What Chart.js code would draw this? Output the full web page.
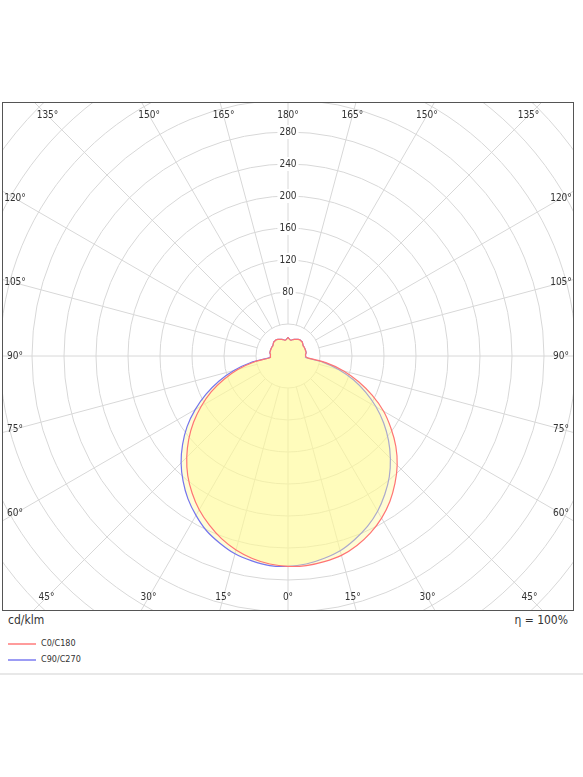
<!DOCTYPE html>
<html>
<head>
<meta charset="utf-8">
<script src="https://cdn.jsdelivr.net/npm/chart.js@4.4.1/dist/chart.umd.min.js"></script>
<style>
  body { margin: 0; background: #fff; font-family: Tahoma, "DejaVu Sans Condensed", "DejaVu Sans", sans-serif; color: #333; }
  #frame { position: absolute; left: 2px; top: 102px; width: 572px; height: 509px; box-sizing: border-box; border: 1px solid #555; overflow: hidden; }
  #wrap { position: absolute; left: -138px; top: -170px; width: 846px; height: 846px; }
  #unit { position: absolute; left: 8px; top: 613px; font-size: 12px; }
  #eta { position: absolute; left: 500px; width: 68px; text-align: right; top: 613px; font-size: 12px; }
  #legend { position: absolute; left: 8px; top: 635px; font-size: 9px; }
  .item { position: relative; height: 16px; line-height: 16px; padding-left: 33px; }
  .swatch { position: absolute; left: 0; top: 8px; width: 28px; height: 2px; }
  #sep { position: absolute; left: 0; right: 0; top: 673px; height: 2px; background: #e8e8e8; }
</style>
</head>
<body>
<div id="frame"><div id="wrap"><canvas id="polar"></canvas></div></div>
<div id="unit">cd/klm</div>
<div id="eta">η = 100%</div>
<div id="legend"></div>
<div id="sep"></div>
<script>
// gamma angles, 0 = straight down, 180 = straight up
var gamma = [0, 5, 10, 15, 20, 25, 30, 35, 40, 45, 50, 55, 60, 65, 70, 75, 80, 85, 90,
             95, 100, 105, 110, 115, 120, 125, 130, 135, 140, 145, 150, 155, 160, 165, 170, 175, 180];

// intensities in cd/klm
var c0 = [263, 263, 261, 258, 252, 244, 234, 222, 208, 193, 176, 157, 138, 116, 94, 72, 48, 24, 22,
          22, 23, 23, 23, 23, 23, 23, 24, 25, 25, 25, 24, 23, 22, 21, 20, 21, 23];
var c180 = [263, 261, 257, 251, 243, 233, 222, 209, 195, 179, 162, 144, 125, 106, 85, 65, 43, 22, 22,
            22, 23, 23, 23, 23, 23, 23, 24, 25, 25, 25, 24, 23, 22, 21, 20, 21, 23];
var c90 = [263, 261, 257, 252, 244, 235, 224, 211, 197, 181, 164, 146, 127, 107, 87, 66, 44, 22, 22,
           22, 23, 23, 23, 23, 23, 23, 24, 25, 25, 25, 24, 23, 22, 21, 20, 21, 23];
var c270 = [263, 263, 260, 256, 249, 241, 230, 218, 204, 189, 172, 154, 134, 113, 92, 70, 47, 23, 22,
            22, 23, 23, 23, 23, 23, 23, 24, 25, 25, 25, 24, 23, 22, 21, 20, 21, 23];

var seriesNames = ["C0/C180", "C90/C270"];
var seriesColors = ["#ff7474", "#7474ee"];
var legendColors = ["#ff9c9c", "#9c9cf4"];
var tickLabels = [80, 120, 160, 200, 240, 280];
var angleLabels = [0, 15, 30, 45, 60, 75, 90, 105, 120, 135, 150, 165, 180];

var gridColor = "#d8d8d8";
var fillColor = "rgba(255, 250, 150, 0.4)";

// radar goes clockwise from the top: right half runs 180 -> 0, left half 0 -> 180
var positions = [];
for (var p = 0; p < 360; p += 5) positions.push(p);
var labels = positions.map(function(t){ return t <= 180 ? 180 - t : t - 180; });

function joinHalves(right, left) {
  return positions.map(function(t){
    return t <= 180 ? right[gamma.indexOf(180 - t)] : left[gamma.indexOf(t - 180)];
  });
}

var angleLinePlugin = {
  id: 'angleLines15',
  beforeDatasetsDraw: function(chart) {
    var s = chart.scales.r, ctx = chart.ctx;
    var inner = s.getDistanceFromCenterForValue(40);
    ctx.save();
    ctx.strokeStyle = gridColor;
    ctx.lineWidth = 1;
    for (var i = 0; i < labels.length; i++) {
      if (angleLabels.indexOf(labels[i]) < 0) continue;
      var a = s.getPointPosition(i, inner);
      var b = s.getPointPosition(i, s.drawingArea);
      ctx.beginPath();
      ctx.moveTo(a.x, a.y);
      ctx.lineTo(b.x, b.y);
      ctx.stroke();
    }
    ctx.restore();
  }
};

// angle labels sit where the spokes meet a box just inside the frame
var frameLabelPlugin = {
  id: 'frameLabels',
  afterDraw: function(chart) {
    var s = chart.scales.r, ctx = chart.ctx;
    var box = { left: 150, right: 696, top: 182.5, bottom: 664.5 };
    ctx.save();
    ctx.font = '10px Tahoma, "DejaVu Sans Condensed", "DejaVu Sans", sans-serif';
    ctx.fillStyle = '#333';
    ctx.textAlign = 'center';
    ctx.textBaseline = 'middle';
    for (var i = 0; i < labels.length; i++) {
      if (angleLabels.indexOf(labels[i]) < 0) continue;
      var pt = s.getPointPosition(i, s.drawingArea);
      var dx = pt.x - s.xCenter, dy = pt.y - s.yCenter;
      var t = Infinity;
      if (dx > 0.001) t = Math.min(t, (box.right - s.xCenter) / dx);
      if (dx < -0.001) t = Math.min(t, (box.left - s.xCenter) / dx);
      if (dy > 0.001) t = Math.min(t, (box.bottom - s.yCenter) / dy);
      if (dy < -0.001) t = Math.min(t, (box.top - s.yCenter) / dy);
      ctx.fillText(labels[i] + '°', s.xCenter + dx * t, s.yCenter + dy * t);
    }
    ctx.restore();
  }
};

var ctx = document.getElementById("polar").getContext('2d');
var myChart = new Chart(ctx, {
  type: 'radar',
  data: {
    labels: labels,
    datasets: [{
      label: seriesNames[0],
      data: joinHalves(c0, c180),
      borderColor: seriesColors[0],
      backgroundColor: fillColor,
      borderWidth: 1.2,
      fill: true,
      tension: 0.3,
      pointRadius: 0
    }, {
      label: seriesNames[1],
      data: joinHalves(c90, c270),
      borderColor: seriesColors[1],
      backgroundColor: fillColor,
      borderWidth: 1.2,
      fill: true,
      tension: 0.3,
      pointRadius: 0
    }]
  },
  options: {
    responsive: true,
    maintainAspectRatio: false,
    animation: false,
    events: [],
    layout: { padding: 0 },
    plugins: {
      legend: { display: false },
      tooltip: { enabled: false }
    },
    scales: {
      r: {
        min: 0,
        max: 520,
        ticks: {
          stepSize: 40,
          z: 1,
          color: '#333',
          font: { size: 10, family: 'Tahoma, "DejaVu Sans Condensed", "DejaVu Sans", sans-serif' },
          backdropPadding: 2,
          backdropColor: function(c) {
            return c.tick && tickLabels.indexOf(c.tick.value) >= 0 ? '#fff' : 'rgba(0,0,0,0)';
          },
          callback: function(v) { return tickLabels.indexOf(v) >= 0 ? String(v) : ''; }
        },
        grid: { circular: true, color: gridColor, lineWidth: 1 },
        angleLines: { display: false },
        pointLabels: { display: false }
      }
    }
  },
  plugins: [angleLinePlugin, frameLabelPlugin]
});

var legend = document.getElementById("legend");
seriesNames.forEach(function(name, i){
  var row = document.createElement("div");
  row.className = "item";
  var sw = document.createElement("span");
  sw.className = "swatch";
  sw.style.backgroundColor = legendColors[i];
  row.appendChild(sw);
  row.appendChild(document.createTextNode(name));
  legend.appendChild(row);
});
</script>
</body>
</html>
